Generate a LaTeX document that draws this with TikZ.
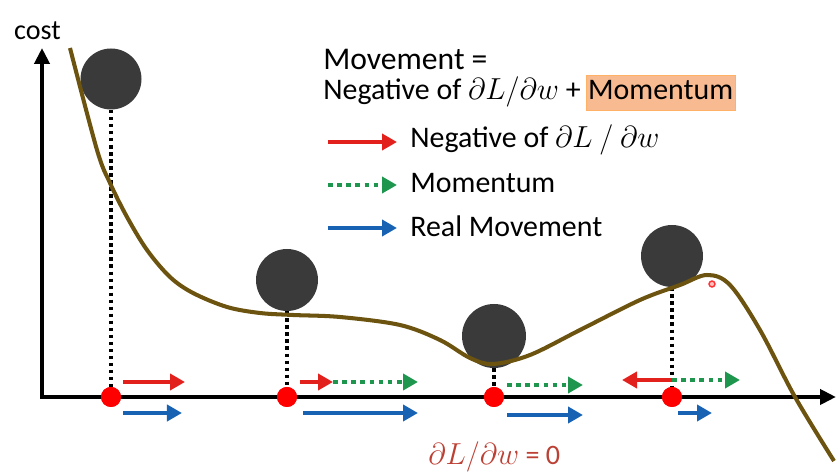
\documentclass[tikz,border=0pt]{standalone}
\usepackage{fontspec}
\setmainfont{Carlito}
\usepackage{tikz}
\usetikzlibrary{arrows.meta,positioning,calc}
\definecolor{ballgray}{RGB}{58,58,58}
\definecolor{curvebrown}{RGB}{108,84,16}
\definecolor{gradred}{RGB}{226,32,28}
\definecolor{momgreen}{RGB}{30,150,78}
\definecolor{moveblue}{RGB}{24,98,180}
\definecolor{boxorange}{RGB}{248,186,144}
\definecolor{zerored}{RGB}{188,64,52}

\begin{document}
\begin{tikzpicture}[x=0.2cm,y=0.2cm,
  ball/.style={circle,fill=ballgray,minimum size=1.22cm,inner sep=0pt},
  dot/.style={circle,fill=red,minimum size=0.4cm,inner sep=0pt},
  drop/.style={black,line width=2pt,dash pattern=on 2pt off 2pt},
  tip/.style={-{Triangle[length=0.3cm,width=0.32cm]}},
  grad/.style={tip,gradred,line width=2.8pt},
  mom/.style={tip,momgreen,line width=2.8pt,dash pattern=on 2.6pt off 2.6pt},
  real/.style={tip,moveblue,line width=2.8pt},
  txt/.style={font=\fontsize{17}{19}\selectfont,anchor=base west,inner sep=0pt}]
\useasboundingbox (0,0) rectangle (83.6,47.4);

% axes
\coordinate (O) at (4.2,7.7);
\coordinate (ytip) at (4.2,42.6);
\coordinate (xtip) at (83.6,7.7);
\draw[line width=2.3pt,{Triangle[length=0.32cm,width=0.3cm]}-{Triangle[length=0.32cm,width=0.3cm]}] (ytip) |- (xtip);
\node[font=\fontsize{16}{18}\selectfont] (cost) at (3.75,44.3) {cost};

% balls and where they stand
\node[ball] (b1) at (11.1,39.5) {};
\node[ball,minimum size=1.24cm] (b2) at (28.7,19.4) {};
\node[ball,minimum size=1.28cm] (b3) at (49.4,13.8) {};
\node[ball,minimum size=1.24cm] (b4) at (67.2,21.8) {};
\node[dot] (p1) at (11.1,7.7) {};
\node[dot] (p2) at (28.7,7.7) {};
\node[dot] (p3) at (49.4,7.7) {};
\node[dot] (p4) at (67.2,7.7) {};
\draw[drop] (b1.south) -- (p1);
\draw[drop] (b2.south) -- (p2);
\draw[drop] (b3.south) -- (p3);
\draw[drop] (b4.south) -- (p4);
\node[dot] at (p1) {};
\node[dot] at (p2) {};
\node[dot] at (p3) {};
\node[dot] at (p4) {};

% cost curve
\draw[curvebrown,line width=2.3pt] plot[smooth,tension=0.55] coordinates {
  (7.0,42.6) (9.7,32.4) (11.0,29.1) (12.7,25.7) (14.7,22.4) (17.0,19.7)
  (19.3,18.1) (22.7,16.7) (26.0,16.1) (29.3,15.9) (34.0,15.7) (40.0,14.9)
  (44.0,13.4) (47.0,11.6) (49.3,11.0) (53.0,11.9) (58.0,14.4) (64.0,17.4)
  (68.0,18.9) (70.7,19.9) (73.0,18.9) (76.0,14.4) (79.5,7.7) (83.4,1.3)};
\node[circle,draw=red!80,fill=red!25,line width=0.8pt,minimum size=0.12cm,inner sep=0pt] (mark) at (71.2,19.0) {};

% movements at each point
\draw[grad] ($(p1)+(1.2,1.5)$) -- ++(6.2,0);
\draw[real] ($(p1)+(1.2,-1.6)$) -- ++(5.9,0);
\draw[grad] ($(p2)+(1.3,1.5)$) -- ++(3.3,0) coordinate (g2);
\draw[mom] (g2) -- ++(8.5,0);
\draw[real] ($(p2)+(1.6,-1.6)$) -- ++(11.5,0);
\draw[mom] ($(p3)+(1.3,1.2)$) -- ++(7.6,0);
\draw[real] ($(p3)+(1.3,-1.8)$) -- ++(7.6,0);
\draw[grad] ($(p4)+(0,1.7)$) -- ++(-5.0,0);
\draw[mom] ($(p4)+(0,1.7)$) -- ++(6.8,0);
\draw[real] ($(p4)+(0.6,-1.6)$) -- ++(3.4,0);

% legend
\node[txt,font=\fontsize{18}{20}\selectfont] (title) at (32.3,40.4) {Movement =};
\node[txt] (sum) at (32.3,37.4) {Negative of $\partial L/\partial w$ +};
\node[txt,fill=boxorange,draw=orange!60,inner xsep=1pt,text height=0.5cm,text depth=0.2cm,right=0.1cm of sum.base east,anchor=base west] (hl) {Momentum};
\coordinate (l1) at (32.8,33.2);
\coordinate (l2) at (32.8,28.9);
\coordinate (l3) at (32.8,24.6);
\draw[grad] (l1) -- ++(6.9,0);
\draw[mom] (l2) -- ++(6.9,0);
\draw[real] (l3) -- ++(6.9,0);
\node[txt] (t1) at (41.0,32.6) {Negative of $\partial L\ /\ \partial w$};
\node[txt] (t2) at (41.0,28.1) {Momentum};
\node[txt] (t3) at (41.0,23.7) {Real Movement};

\node[txt,font=\fontsize{16}{18}\selectfont,text=zerored] (zero) at (42.8,0.9) {$\partial L/\partial w$ = 0};
\end{tikzpicture}
\end{document}
